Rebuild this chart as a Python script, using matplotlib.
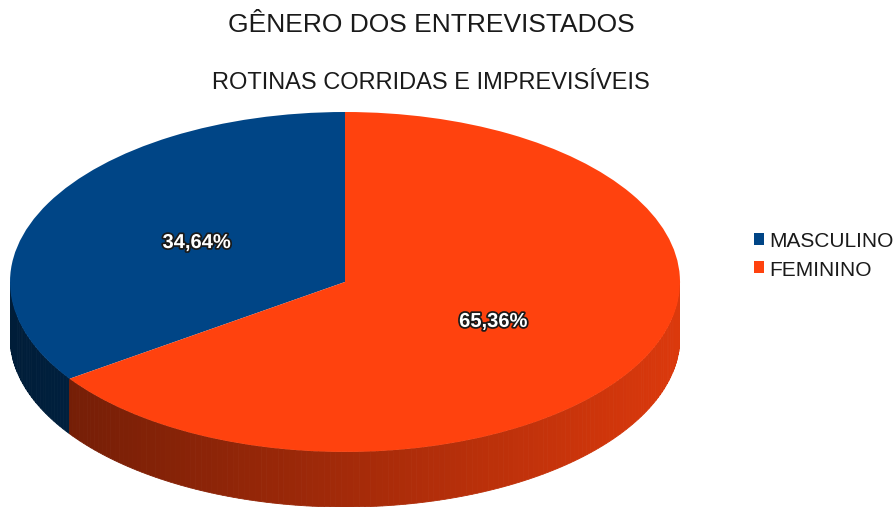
import numpy as np
import matplotlib
matplotlib.use('Agg')
import matplotlib.pyplot as plt
from matplotlib.patches import Patch, Polygon
import matplotlib.patheffects as pe

plt.rcParams['font.family'] = ['Liberation Sans', 'DejaVu Sans']

# dados
categorias = ['MASCULINO', 'FEMININO']
percentuais = [34.64, 65.36]
cores = ['#004586', '#ff420e']
titulo = 'GÊNERO DOS ENTREVISTADOS'
subtitulo = 'ROTINAS CORRIDAS E IMPREVISÍVEIS'

espessura = 0.324  # altura da lateral (unidades do raio vertical)

fig = plt.figure(figsize=(8.95, 5.10), dpi=100)
ax = fig.add_axes([10/895, 2/510, 670/895, 395/510])

wedges, textos, autotextos = ax.pie(
    percentuais, colors=cores, startangle=90, counterclock=True,
    autopct=lambda p: f'{p:.2f}%'.replace('.', ','), pctdistance=0.5,
    wedgeprops=dict(linewidth=0), radius=1)
for w in wedges:
    w.set_zorder(3)

# lateral 3D (so a metade da frente)
for w, cor in zip(wedges, cores):
    base = np.array(matplotlib.colors.to_rgb(cor))
    for lo, hi in [(180, 360), (540, 720)]:
        t1 = max(w.theta1, lo)
        t2 = min(w.theta2, hi)
        if t2 <= t1:
            continue
        passos = np.linspace(t1, t2, int(t2 - t1) + 2)
        for a, b in zip(passos[:-1], passos[1:]):
            tt = np.radians(np.linspace(a, b, 4))
            xs = np.cos(tt)
            ys = np.sin(tt)
            pts = np.column_stack([np.r_[xs, xs[::-1]],
                                   np.r_[ys, ys[::-1] - espessura]])
            fator = 0.64 + 0.22 * np.cos(np.radians((a + b) / 2))
            c = np.clip(base * fator, 0, 1)
            ax.add_patch(Polygon(pts, closed=True, facecolor=c,
                                 edgecolor=c, linewidth=0.6, zorder=2))

for t in autotextos:
    t.set_color('white')
    t.set_fontweight('bold')
    t.set_fontsize(14.5)
    t.set_zorder(5)
    t.set_path_effects([pe.withStroke(linewidth=2.5, foreground='#1a1a1a')])

ax.set_aspect('auto')
ax.set_xlim(-1, 1)
ax.set_ylim(-1 - espessura, 1)
ax.axis('off')

fig.text(431/895, 1 - 25/510, titulo, ha='center', va='center',
         fontsize=19, color='#1a1a1a')
fig.text(431/895, 1 - 83/510, subtitulo, ha='center', va='center',
         fontsize=17, color='#1a1a1a')

handles = [Patch(facecolor=c, edgecolor='none') for c in cores]
fig.legend(handles=handles, labels=categorias, loc='center left',
           bbox_to_anchor=(735/895, 1 - 256/510), frameon=False,
           handlelength=0.5, handleheight=0.5, handletextpad=0.25,
           labelspacing=0.45, fontsize=15, labelcolor='#1a1a1a')

fig.savefig('out.png', dpi=100)
